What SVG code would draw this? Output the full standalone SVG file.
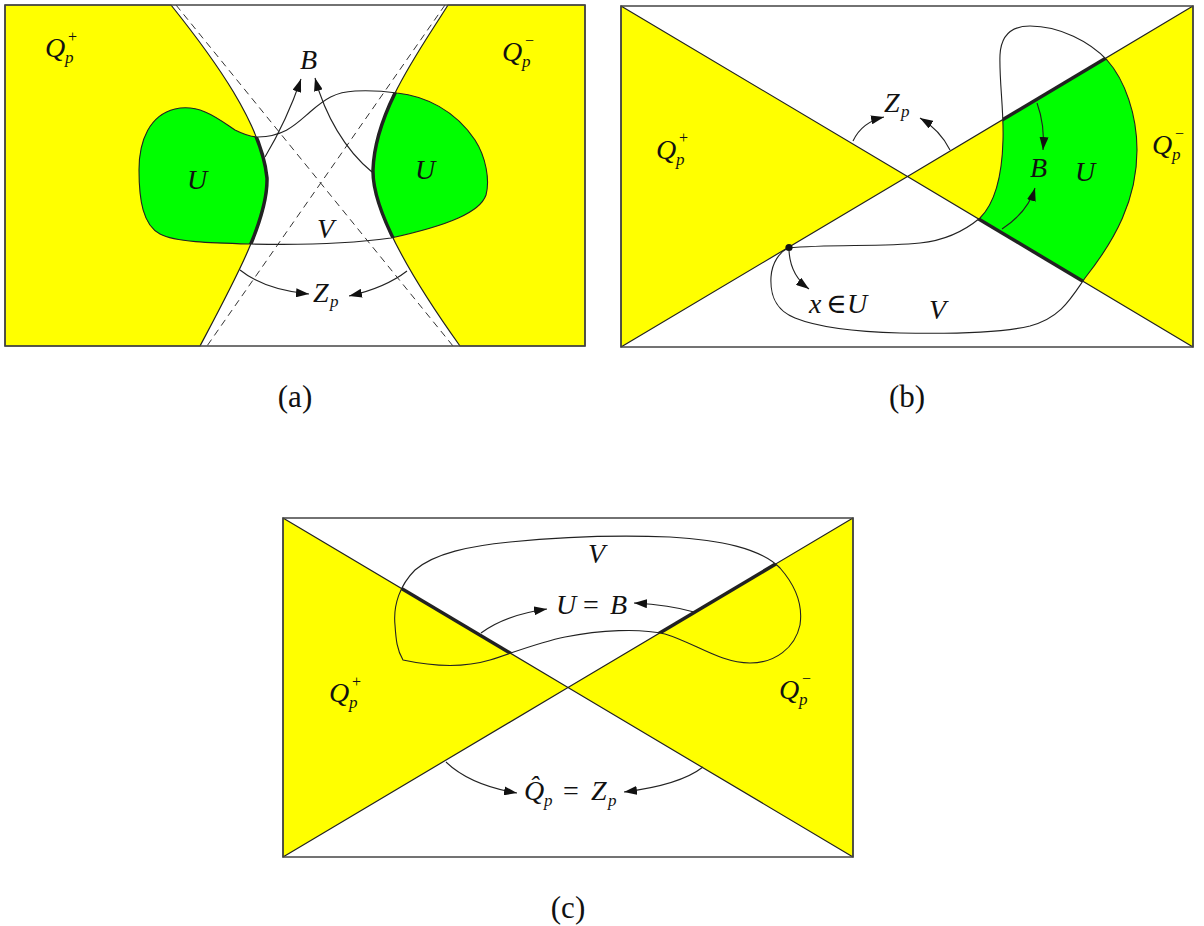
<svg xmlns="http://www.w3.org/2000/svg" width="1204" height="926" viewBox="0 0 1204 926">
<defs>
<style>
.y{fill:#ffff00;stroke:#222;stroke-width:1.2;stroke-linejoin:round}
.g{fill:#00ff00;stroke:none}
.th{fill:none;stroke:#222;stroke-width:3.5}
.ln{fill:none;stroke:#222;stroke-width:1.1}
.ds{fill:none;stroke:#333;stroke-width:1;stroke-dasharray:7 5}
.fr{fill:none;stroke:#444;stroke-width:1.5}
.ar{fill:none;stroke:#222;stroke-width:1.1;marker-end:url(#ah)}
text{font-family:"Liberation Serif","DejaVu Serif",serif;fill:#111}
.l{font-size:28px;font-style:italic}
.s{font-size:17px}
.t{font-size:16px}
.u{font-style:normal}
.cap{font-size:31px;text-anchor:middle}
</style>
<marker id="ah" viewBox="0 0 13 9" refX="13" refY="4.5" markerWidth="13" markerHeight="9" markerUnits="userSpaceOnUse" orient="auto"><path d="M0,0 L13,4.5 L0,9 Z" fill="#111"/></marker>
<clipPath id="cVa"><path d="M258,137 C285,136 295,125 310,112 C325,99 335,92 355,91 C375,90 390,92 397,93 C425,96 455,110 475,140 C486,157 490,180 486,195 C480,212 450,225 391,238 C340,245 290,245 250,244 C210,243 175,242 160,234 C143,225 139,200 139,170 C139,140 150,115 175,109 C200,103 220,120 235,130 C245,135 252,137 258,137 Z"/></clipPath>
<clipPath id="cVb"><path d="M788,248 C830,244 880,247 920,243 C950,240 968,228 980,218 C993,205 1002,180 1003,140 C1004,110 999,80 1000,55 C1001,35 1012,26 1030,26 C1060,26 1090,42 1107,60 C1125,80 1137,115 1137,150 C1137,200 1115,240 1085,278 C1070,300 1060,318 1030,326 C1000,333 950,334 900,333 C860,332 820,328 795,318 C775,310 770,295 771,277 C772,262 780,252 788,248 Z"/></clipPath>
<clipPath id="cVc"><path d="M395,625 C393,605 400,585 415,570 C435,553 470,546 510,542 C560,537 620,535 670,537 C720,540 760,548 780,568 C795,585 803,605 800,625 C795,648 775,663 750,663 C720,663 695,643 665,634 C640,628 600,630 565,637 C540,642 515,652 490,660 C470,666 440,668 403,660 C397,650 396,640 395,625 Z"/></clipPath>
</defs>

<!-- Panel (a) -->
<g id="panel-a">
  <line class="ds" x1="176" y1="5" x2="453" y2="346"/>
  <line class="ds" x1="445" y1="5" x2="207" y2="346"/>
  <path id="a-Qplus-region" class="y" d="M5,5 L171,5 C215,60 262,125 267,178 C268,220 235,280 200,346 L5,346 Z"/>
  <path id="a-Qminus-region" class="y" d="M448,5 C420,50 375,110 373,170 C372,215 420,290 460,346 L585,346 L585,5 Z"/>
  <g id="a-U" clip-path="url(#cVa)">
    <path class="g" d="M5,5 L171,5 C215,60 262,125 267,178 C268,220 235,280 200,346 L5,346 Z"/>
    <path class="g" d="M448,5 C420,50 375,110 373,170 C372,215 420,290 460,346 L585,346 L585,5 Z"/>
  </g>
  <path id="a-V" class="ln" d="M258,137 C285,136 295,125 310,112 C325,99 335,92 355,91 C375,90 390,92 397,93 C425,96 455,110 475,140 C486,157 490,180 486,195 C480,212 450,225 391,238 C340,245 290,245 250,244 C210,243 175,242 160,234 C143,225 139,200 139,170 C139,140 150,115 175,109 C200,103 220,120 235,130 C245,135 252,137 258,137 Z"/>
  <g id="a-B" clip-path="url(#cVa)">
    <path class="th" d="M171,5 C215,60 262,125 267,178 C268,220 235,280 200,346"/>
    <path class="th" d="M448,5 C420,50 375,110 373,170 C372,215 420,290 460,346"/>
  </g>
  <rect class="fr" x="5" y="5" width="580" height="341"/>
  <g id="a-label-Qplus"><text class="l" x="45" y="57">Q<tspan class="s" x="65" y="63">p</tspan><tspan class="t u" x="68" y="42">+</tspan></text></g>
  <g id="a-label-Qminus"><text class="l" x="502" y="61">Q<tspan class="s" x="522" y="67">p</tspan><tspan class="t u" x="525" y="46">−</tspan></text></g>
  <g id="a-label-U1"><text class="l" x="187" y="189">U</text></g>
  <g id="a-label-U2"><text class="l" x="415" y="179">U</text></g>
  <g id="a-label-B"><text class="l" x="300" y="69">B</text></g>
  <g id="a-label-V"><text class="l" x="317" y="238">V</text></g>
  <g id="a-label-Z"><text class="l" x="313" y="302">Z<tspan class="s" x="330" y="307">p</tspan></text></g>
  <text class="cap" x="295" y="407">(a)</text>
</g>

<!-- Panel (b) -->
<g id="panel-b">
  <polygon id="b-Qplus-region" class="y" points="621,6 621,347 907.5,176.5"/>
  <polygon id="b-Qminus-region" class="y" points="1193,6 1193,347 907.5,176.5"/>
  <g id="b-U" clip-path="url(#cVb)">
    <polygon class="g" points="1193,6 1193,347 907.5,176.5"/>
  </g>
  <g id="b-B" clip-path="url(#cVb)">
    <line class="th" x1="907.5" y1="176.5" x2="1193" y2="6"/>
    <line class="th" x1="907.5" y1="176.5" x2="1193" y2="347"/>
  </g>
  <path id="b-V" class="ln" d="M788,248 C830,244 880,247 920,243 C950,240 968,228 980,218 C993,205 1002,180 1003,140 C1004,110 999,80 1000,55 C1001,35 1012,26 1030,26 C1060,26 1090,42 1107,60 C1125,80 1137,115 1137,150 C1137,200 1115,240 1085,278 C1070,300 1060,318 1030,326 C1000,333 950,334 900,333 C860,332 820,328 795,318 C775,310 770,295 771,277 C772,262 780,252 788,248 Z"/>
  <circle id="b-x" cx="789" cy="247.5" r="3.6" fill="#111"/>
  <rect class="fr" x="621" y="6" width="572" height="341"/>
  <g id="b-label-Qplus"><text class="l" x="656" y="159">Q<tspan class="s" x="676" y="165">p</tspan><tspan class="t u" x="679" y="143">+</tspan></text></g>
  <g id="b-label-Qminus"><text class="l" x="1152" y="154">Q<tspan class="s" x="1172" y="160">p</tspan><tspan class="t u" x="1175" y="139">−</tspan></text></g>
  <g id="b-label-Z"><text class="l" x="884" y="112">Z<tspan class="s" x="901" y="117">p</tspan></text></g>
  <g id="b-label-B"><text class="l" x="1030" y="177">B</text></g>
  <g id="b-label-U"><text class="l" x="1075" y="181">U</text></g>
  <g id="b-label-x"><text class="l" x="809" y="313">x<tspan class="u" x="826">∈</tspan><tspan x="847">U</tspan></text></g>
  <g id="b-label-V"><text class="l" x="929" y="319">V</text></g>
  <text class="cap" x="907" y="407">(b)</text>
</g>

<!-- Panel (c) -->
<g id="panel-c">
  <polygon id="c-Qplus-region" class="y" points="283,518 283,857 568,687.5"/>
  <polygon id="c-Qminus-region" class="y" points="853,518 853,857 568,687.5"/>
  <g id="c-B" clip-path="url(#cVc)">
    <line class="th" x1="283" y1="518" x2="568" y2="687.5"/>
    <line class="th" x1="853" y1="518" x2="568" y2="687.5"/>
  </g>
  <path id="c-V" class="ln" d="M395,625 C393,605 400,585 415,570 C435,553 470,546 510,542 C560,537 620,535 670,537 C720,540 760,548 780,568 C795,585 803,605 800,625 C795,648 775,663 750,663 C720,663 695,643 665,634 C640,628 600,630 565,637 C540,642 515,652 490,660 C470,666 440,668 403,660 C397,650 396,640 395,625 Z"/>
  <rect class="fr" x="283" y="518" width="570" height="339"/>
  <g id="c-label-Qplus"><text class="l" x="329" y="702">Q<tspan class="s" x="349" y="708">p</tspan><tspan class="t u" x="352" y="687">+</tspan></text></g>
  <g id="c-label-Qminus"><text class="l" x="779" y="699">Q<tspan class="s" x="799" y="705">p</tspan><tspan class="t u" x="802" y="684">−</tspan></text></g>
  <g id="c-label-V"><text class="l" x="588" y="563">V</text></g>
  <g id="c-label-UB"><text class="l" x="556" y="614">U<tspan class="u" x="583">=</tspan><tspan x="610">B</tspan></text></g>
  <g id="c-label-QZ"><text class="l" x="524" y="800">Q̂<tspan class="s" x="544" y="806">p</tspan><tspan class="u" x="563" y="800">=</tspan><tspan x="591" y="800">Z</tspan><tspan class="s" x="608" y="806">p</tspan></text></g>
  <text class="cap" x="568" y="918">(c)</text>
</g>

<!-- Connectors -->
<g id="connectors">
  <path class="ar" d="M265,157 Q287,120 301,79"/>
  <path class="ar" d="M372,172 C345,150 325,115 315,78"/>
  <path class="ar" d="M240,270 Q265,290 309,294"/>
  <path class="ar" d="M407,271 Q385,288 349,296"/>
  <path class="ar" d="M853,141 Q862,122 884,117"/>
  <path class="ar" d="M950,150 Q940,130 920,118"/>
  <path class="ar" d="M789,250 Q790,275 809,289"/>
  <path class="ar" d="M1037,103 Q1045,125 1043,150"/>
  <path class="ar" d="M1002,229 Q1028,212 1035,188"/>
  <path class="ar" d="M481,633 Q505,615 547,609"/>
  <path class="ar" d="M694,612 Q670,605 634,603"/>
  <path class="ar" d="M446,762 Q470,785 517,793"/>
  <path class="ar" d="M703,767 Q680,785 624,792"/>
</g>
</svg>
